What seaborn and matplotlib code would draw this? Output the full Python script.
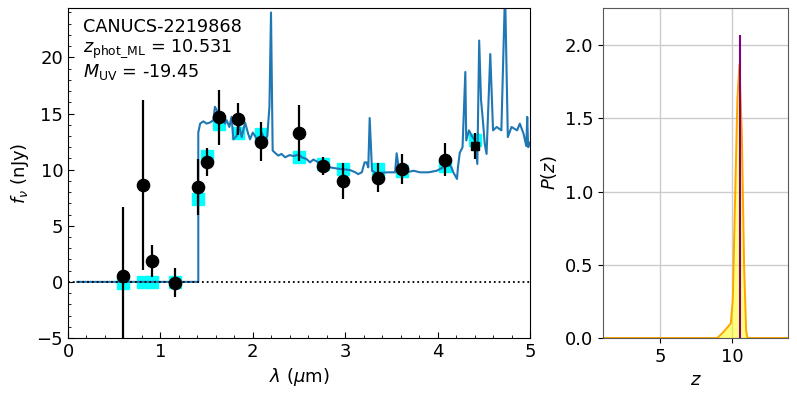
import matplotlib
matplotlib.use("Agg")
import matplotlib.pyplot as plt
import seaborn as sns
import numpy as np
import pandas as pd
from matplotlib.ticker import MultipleLocator

plt.rcParams['font.family'] = ['DejaVu Sans']
plt.rcParams['mathtext.fontset'] = 'dejavusans'

# ---------------- data ----------------
obj_name = "CANUCS-2219868"
z_ml = 10.531
muv = -19.45

spec_lam = [0.10, 1.41, 1.41, 1.43, 1.465, 1.50, 1.537, 1.573, 1.59, 1.61,
            1.627, 1.663, 1.68, 1.70, 1.717, 1.746, 1.77, 1.79, 1.826, 1.843,
            1.88, 1.916, 1.95, 1.97, 2.00, 2.024, 2.06, 2.096, 2.13, 2.157,
            2.18, 2.197, 2.215, 2.24, 2.276, 2.31, 2.35, 2.40, 2.44, 2.475,
            2.51, 2.53, 2.58, 2.62, 2.655, 2.71, 2.73, 2.835, 2.94, 3.05,
            3.11, 3.14, 3.18, 3.21, 3.23, 3.25, 3.265, 3.29, 3.34, 3.45,
            3.54, 3.557, 3.585, 3.665, 3.74, 3.81, 3.90, 3.99, 4.06, 4.12,
            4.15, 4.17, 4.21, 4.22, 4.24, 4.27, 4.30, 4.31, 4.34, 4.37,
            4.405, 4.43, 4.45, 4.47, 4.49, 4.51, 4.53, 4.57, 4.60, 4.64,
            4.69, 4.73, 4.76, 4.80, 4.86, 4.89, 4.93, 4.96, 4.97, 4.98, 5.0]
spec_f = [0, 0, 13.3, 14.1, 14.3, 14.1, 14.2, 14.4, 15.6, 15.3,
          14.1, 14.5, 14.8, 14.1, 14.4, 13.8, 14.7, 12.7, 13.0, 14.2,
          12.9, 14.2, 13.2, 12.7, 13.3, 13.0, 12.4, 13.3, 12.6, 13.0,
          15.6, 24.0, 11.7, 11.5, 11.25, 11.4, 11.1, 11.3, 11.2, 11.3,
          11.25, 11.1, 10.95, 10.65, 10.9, 10.65, 10.36, 10.2, 10.06, 9.97,
          9.76, 9.6, 9.76, 10.65, 10.65, 10.2, 14.6, 9.9, 9.67, 9.76,
          9.76, 11.46, 9.76, 9.76, 9.9, 9.76, 9.76, 9.9, 10.2, 10.5,
          10.2, 9.76, 9.17, 10.2, 11.5, 12.0, 18.7, 12.6, 13.5, 13.0,
          12.6, 10.5, 21.5, 16.2, 14.4, 12.3, 11.4, 20.3, 13.5, 13.8,
          13.5, 26.0, 12.9, 13.8, 13.5, 14.1, 13.2, 12.1, 14.7, 12.0, 12.4]

phot_lam = [0.60, 0.81, 0.905, 1.158, 1.41, 1.50, 1.634, 1.843, 2.09, 2.50,
            2.756, 2.98, 3.36, 3.62, 4.08, 4.405]
phot_f = [0.54, 8.63, 1.87, -0.06, 8.48, 10.65, 14.67, 14.5, 12.5, 13.3,
          10.36, 9.0, 9.29, 10.06, 10.9, 12.08]
phot_err = [6.1, 7.6, 1.4, 1.3, 2.5, 1.25, 2.45, 1.45, 1.7, 2.5,
            0.8, 1.6, 1.3, 1.3, 1.45, 1.15]
model_f = [-0.1, 0, 0, 0, 7.35, 11.2, 14.1, 13.3, 13.15, 11.1,
           10.5, 10.06, 10.06, 9.85, 10.36, 12.6]

z_grid = [1.0, 8.97, 9.39, 9.74, 9.91, 10.05, 10.21, 10.37, 10.51, 10.68,
          10.84, 10.98, 11.07, 13.9]
pz = [0, 0, 0.04, 0.08, 0.10, 0.26, 0.95, 1.63, 1.87, 1.40,
      0.49, 0.05, 0, 0]
pz_ml_height = 2.07

spec_df = pd.DataFrame({"lam": spec_lam, "f": spec_f})
phot_df = pd.DataFrame({"lam": phot_lam, "f": phot_f, "err": phot_err, "model": model_f})
pz_df = pd.DataFrame({"z": z_grid, "p": pz})

# ---------------- figure ----------------
fig = plt.figure(figsize=(7.97, 3.99), dpi=100)
ax = fig.add_axes([68/797, 1-338/399, 462/797, 330/399])
ax2 = fig.add_axes([603/797, 1-338/399, 185/797, 330/399])

fs = 13

# model photometry (cyan squares)
ax.plot(phot_df["lam"], phot_df["model"], ls='none', marker='s', ms=8.7,
        color='cyan', mec='cyan', zorder=1)
# model spectrum
sns.lineplot(data=spec_df, x="lam", y="f", ax=ax, sort=False, estimator=None,
             color='#1f77b4', lw=1.5, zorder=2)
ax.axhline(0, color='k', ls=':', lw=1.3, zorder=3)
# observed photometry
main = phot_df.iloc[:-1]
last = phot_df.iloc[-1:]
ax.errorbar(main["lam"], main["f"], yerr=main["err"], fmt='o', color='k',
            ms=8.8, elinewidth=1.6, capsize=0, zorder=4)
ax.errorbar(last["lam"], last["f"], yerr=last["err"], fmt='s', color='k',
            ms=5.5, elinewidth=1.6, capsize=0, zorder=4)

ax.set_xlim(0, 5)
ax.set_ylim(-5, 24.4)
ax.xaxis.set_major_locator(MultipleLocator(1))
ax.xaxis.set_minor_locator(MultipleLocator(0.2))
ax.yaxis.set_major_locator(MultipleLocator(5))
ax.yaxis.set_minor_locator(MultipleLocator(1))
ax.tick_params(which='both', direction='in', labelsize=fs)
ax.tick_params(which='major', length=4)
ax.tick_params(which='minor', length=2.5)
ax.set_xlabel(r"$\lambda$ ($\mu$m)", fontsize=fs)
ax.set_ylabel(r"$f_\nu$ (nJy)", fontsize=fs)

ax.text(0.032, 0.927, obj_name, transform=ax.transAxes, fontsize=12.7, va='baseline')
ax.text(0.032, 0.867, r"$z_{\mathrm{phot\_ML}}$ = " + f"{z_ml:.3f}",
        transform=ax.transAxes, fontsize=12.7, va='baseline')
ax.text(0.032, 0.791, r"$M_{\mathrm{UV}}$ = " + f"{muv:.2f}",
        transform=ax.transAxes, fontsize=12.7, va='baseline')

# P(z)
ax2.grid(True, color='#cccccc', lw=1.0, zorder=0)
ax2.set_axisbelow(True)
ax2.fill_between(pz_df["z"], 0, pz_df["p"], color='yellow', alpha=0.5, lw=0, zorder=1)
sns.lineplot(data=pz_df, x="z", y="p", ax=ax2, sort=False, estimator=None,
             color='orange', lw=1.4, zorder=2)
ax2.vlines(z_ml, 0, pz_ml_height, color='purple', lw=1.5, zorder=3)
ax2.set_xlim(1.0, 13.9)
ax2.set_ylim(0, 2.254)
ax2.set_xticks([5, 10])
ax2.set_yticks([0.0, 0.5, 1.0, 1.5, 2.0])
ax2.yaxis.set_major_formatter(matplotlib.ticker.FormatStrFormatter('%.1f'))
ax2.tick_params(labelsize=fs)
for s in ax2.spines.values():
    s.set_color('0.35')
ax2.set_xlabel(r"$z$", fontsize=fs)
ax2.set_ylabel(r"$P(z)$", fontsize=fs)

fig.savefig("out.png", dpi=100)
